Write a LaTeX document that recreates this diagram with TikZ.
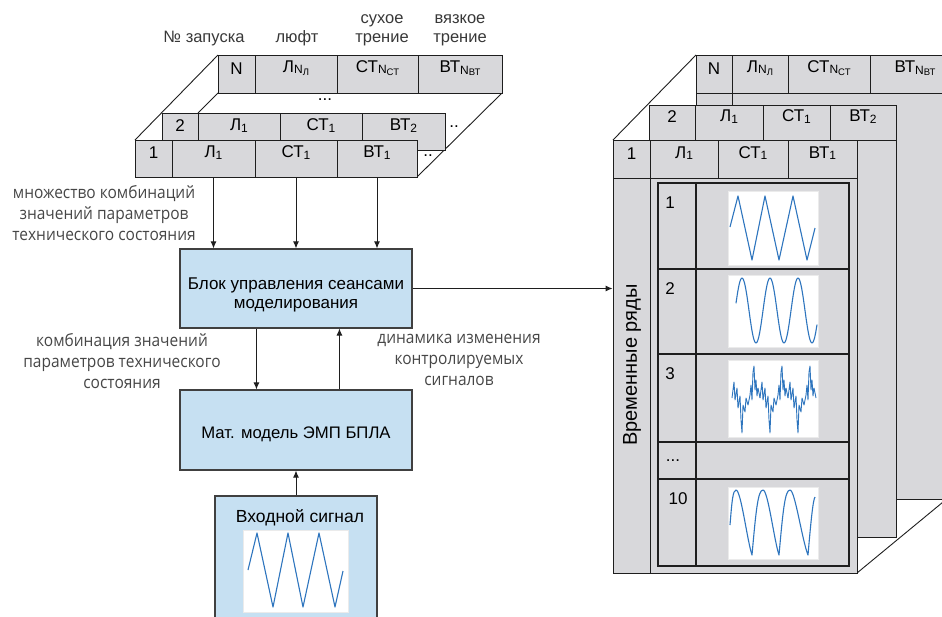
\documentclass[tikz,border=0pt]{standalone}
\usepackage{fontspec}
\usepackage{graphicx}
\setmainfont{Liberation Sans}
\newfontfamily\labfont{Open Sans}
\usetikzlibrary{arrows.meta,fit}
\definecolor{cellgray}{RGB}{216,216,219}
\definecolor{boxblue}{RGB}{198,224,242}
\definecolor{linec}{RGB}{30,30,30}
\definecolor{labc}{RGB}{70,70,70}
\definecolor{sigblue}{RGB}{46,117,190}
\newcommand\mlines[1]{\begin{tabular}[t]{@{}c@{}}#1\end{tabular}}
\newcommand\labtxt[1]{\scalebox{1}[1.1]{\mlines{#1}}}
\newcommand\sbA[1]{\raisebox{-1.5pt}{\fontsize{12}{12}\selectfont #1}}
\newcommand\sbB[1]{\raisebox{-1.5pt}{\fontsize{9.5}{9.5}\selectfont #1}}
\newcommand\cellat[6]{\node[cellbox,fit={(#2,#3) (#4,#5)}] (#1) {#6};}
\begin{document}
\begin{tikzpicture}[x=1pt,y=-1pt,
 cellbox/.style={draw=linec,fill=cellgray,line width=0.9pt,inner sep=0pt,font=\fontsize{17}{19}\selectfont},
 bluebox/.style={draw=linec!85,fill=boxblue,line width=1.1pt,inner sep=0pt},
 boxtxt/.style={anchor=base,inner sep=0pt,font=\fontsize{17}{19}\selectfont},
 lab/.style={anchor=base,inner sep=0pt,text=labc,font=\labfont\fontsize{15.5}{19.5}\selectfont},
 hdr/.style={anchor=base,inner sep=0pt,text=labc!80!black,font=\fontsize{16.5}{19}\selectfont},
 numf/.style={font=\fontsize{17}{19}\selectfont},
 arr/.style={-{Latex[length=7pt,width=6pt]},line width=1pt,draw=linec},
 sig/.style={draw=sigblue,line width=1.1pt,line join=round},
 plotbg/.style={fill=white,draw=black!8,line width=0.4pt},
 persp/.style={draw=linec,line width=0.9pt},
 grid/.style={draw=linec,line width=1.5pt}]
\useasboundingbox (0,0) rectangle (942,616);
\begin{scope}
\clip (0,0) rectangle (942,616);

% ---------- left table stack ----------
\draw[persp] (135,140) -- (218,55);
\draw[persp] (417,177) -- (502,93);
\draw[persp] (218,93) -- (198,113);
\cellat{nN}{218}{55}{255}{93}{N}
\cellat{nL}{255}{55}{337}{93}{Л\sbA{N\sbB{Л}}}
\cellat{nS}{337}{55}{418}{93}{СТ\sbA{N\sbB{СТ}}}
\cellat{nV}{418}{55}{502}{93}{ВТ\sbA{N\sbB{ВТ}}}
\node[numf] (dotsA) at (325,100) {...};
\cellat{a2}{162}{113}{198}{150}{2}
\cellat{aL}{198}{113}{280}{150}{Л\sbA{1}}
\cellat{aS}{280}{113}{362}{150}{СТ\sbA{1}}
\cellat{aV}{362}{113}{445}{150}{ВТ\sbA{2}}
\cellat{b1}{135}{140}{172}{177}{1}
\cellat{bL}{172}{140}{255}{177}{Л\sbA{1}}
\cellat{bS}{255}{140}{337}{177}{СТ\sbA{1}}
\cellat{bV}{337}{140}{417}{177}{ВТ\sbA{1}}
\node[numf] (dotsB) at (454,127) {..};
\node[numf] (dotsC) at (428,156) {..};

% headers
\node[hdr] (hN) at (204,42) {№ запуска};
\node[hdr] (hL) at (297,42) {люфт};
\node[hdr] (hS) at (382,23) {\mlines{сухое\\трение}};
\node[hdr] (hV) at (460,23) {\mlines{вязкое\\трение}};

% labels
\node[lab] (l1) at (104,198) {\labtxt{множество комбинаций\\значений параметров\\технического состояния}};
\node[lab] (l2) at (122,346) {\labtxt{комбинация значений\\параметров технического\\состояния}};
\node[lab] (l3) at (459,343) {\labtxt{динамика изменения\\контролируемых\\сигналов}};

% blocks
\node[bluebox,fit={(180,249) (412,328)}] (blok) {};
\node[boxtxt] (bloktxt) at (296,289) {\mlines{Блок управления сеансами\\моделирования}};
\node[bluebox,fit={(180,390) (412,470)}] (mat) {};
\node[boxtxt,font=\fontsize{16.7}{19}\selectfont] (mattxt) at (296,438) {Мат. модель ЭМП БПЛА};
\node[bluebox,fit={(215,496) (377,640)}] (inp) {};
\node[boxtxt,font=\fontsize{17.5}{19}\selectfont] (inptxt) at (300,522) {Входной сигнал};
\draw[plotbg] (243,530) rectangle (348,612);
\draw[sig] (248,570) -- (257,533) -- (273,607) -- (288,533) -- (303,607) -- (319,533) -- (335,607) -- (343,571);

% arrows
\draw[arr] (bL.south) -- (bL.south |- blok.north);
\draw[arr] (bS.south) -- (bS.south |- blok.north);
\draw[arr] (bV.south) -- (bV.south |- blok.north);
\draw[arr] ([xshift=77pt]blok.south west) -- ([xshift=77pt]mat.north west);
\draw[arr] ([xshift=160pt]mat.north west) -- ([xshift=160pt]blok.south west);
\draw[arr] (inp.north) -- (inp.north |- mat.south);

% ---------- right stack ----------
\draw[persp] (613,140) -- (696,55);
\draw[persp] (857,573) -- (960,488);
\node[cellbox,fit={(696,55) (960,499)}] (back) {};
\node[cellbox,fit={(696,93) (732,499)}] (backcol) {};
\cellat{cN}{696}{55}{732}{93}{N}
\cellat{cL}{732}{55}{788}{93}{Л\sbA{N\sbB{Л}}}
\cellat{cS}{788}{55}{870}{93}{СТ\sbA{N\sbB{СТ}}}
\cellat{cV}{870}{55}{960}{93}{ВТ\sbA{N\sbB{ВТ}}}
\node[cellbox,fit={(649,105) (896,537)}] (s2) {};
\cellat{d2}{649}{105}{695}{140}{2}
\cellat{dL}{695}{105}{763}{140}{Л\sbA{1}}
\cellat{dS}{763}{105}{830}{140}{СТ\sbA{1}}
\cellat{dV}{830}{105}{896}{140}{ВТ\sbA{2}}
\node[cellbox,fit={(613,140) (857,573)}] (s1) {};
\cellat{e1}{613}{140}{650}{178}{1}
\cellat{eL}{650}{140}{718}{178}{Л\sbA{1}}
\cellat{eS}{718}{140}{788}{178}{СТ\sbA{1}}
\cellat{eV}{788}{140}{857}{178}{ВТ\sbA{1}}
\node[cellbox,fit={(613,178) (650,573)}] (tcol) {};
\node[rotate=90,font=\fontsize{20}{22}\selectfont] (tlab) at (632,365) {Временные ряды};

\draw[arr] (blok.east) -- (tcol.west |- blok.east);

% inner table
\draw[grid] (658,183) rectangle (849,566);
\draw[grid] (696,183) -- (696,566);
\foreach \yy in {269,354,442,479} \draw[grid] (658,\yy) -- (849,\yy);
\node[numf] (r1) at (670,203) {1};
\node[numf] (r2) at (670,289) {2};
\node[numf] (r3) at (670,374) {3};
\node[numf] (r4) at (673,461) {...};
\node[numf] (r10) at (678,499) {10};

% plots
\draw[plotbg] (728,191) rectangle (818,265);
\draw[sig] (730,227) -- (738,196) -- (752,260) -- (765,196) -- (779,260) -- (793,196) -- (807,260) -- (815,228);

\draw[plotbg] (728,275) rectangle (818,347);
\draw[sig] plot[domain=736:817,samples=90,smooth] (\x,{310.5-32.5*cos(12.857*(\x-742))});

\draw[plotbg] (728,360) rectangle (818,437);
\foreach \k in {0,1,2}{
 \draw[sig,line width=0.9pt,shift={(28*\k,0)}] (732,398) -- (734,382) -- (735,400) -- (737,388) -- (738,408) -- (740,396) -- (741,420) -- (742,433) -- (743,405) -- (745,412) -- (746,398) -- (748,405) -- (750,395) -- (751,385) -- (752,400) -- (753,372) -- (754,366) -- (755,390) -- (756,380) -- (757,396) -- (758,388) -- (760,398);
}

\draw[plotbg] (728,487) rectangle (818,559);
\draw[sig] (730,525) .. controls (732,500) and (733,490) .. (736,490)
 .. controls (741,490) and (747,540) .. (752,555)
 .. controls (756,510) and (758,490) .. (763,490)
 .. controls (768,490) and (774,540) .. (779,555)
 .. controls (783,510) and (785,490) .. (790,490)
 .. controls (795,490) and (802,540) .. (808,555)
 .. controls (811,520) and (813,500) .. (815,497);
\end{scope}
\end{tikzpicture}
\end{document}
